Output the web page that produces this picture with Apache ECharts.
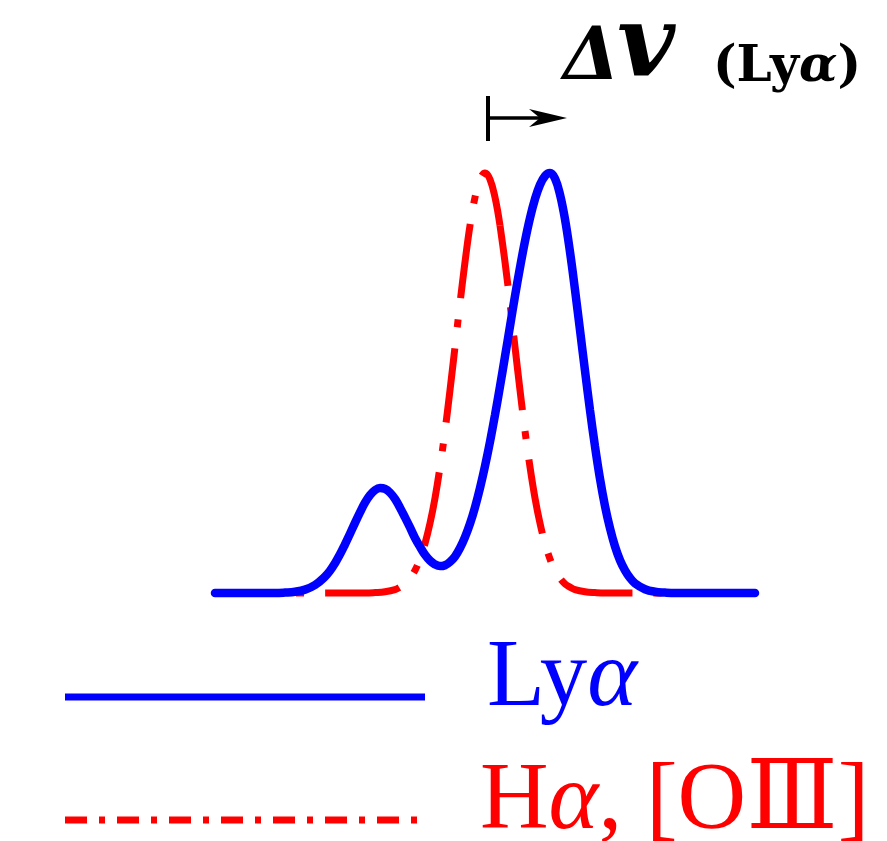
<!DOCTYPE html>
<html>
<head>
<meta charset="utf-8">
<script src="https://cdn.jsdelivr.net/npm/echarts@6/dist/echarts.min.js"></script>
<style>
  html, body { margin: 0; padding: 0; background: #ffffff; }
  #chart { width: 887px; height: 841px; }
</style>
</head>
<body>
<div id="chart"></div>
<script>
// Lyα emission profile: velocity offset (km/s) and normalised flux
const lyaVelocity = [-540, -420, -400, -380, -360, -340, -320,
  -310, -300, -290, -280, -270, -260, -250, -240, -230, -220, -210, -200, -190, -180, -170, -160,
  -150, -140, -130, -120, -110, -100, -90, -80, -70, -60, -50, -40, -30, -20, -10,
  0, 10, 20, 30, 40, 50, 60, 70, 80, 90, 100, 110, 120, 130, 140, 150, 160, 170, 180, 190, 200,
  210, 220, 230, 240, 250, 260, 270, 280, 290, 300, 320, 340, 360, 380, 540];
const lyaFlux = [0, 0, 0.001, 0.003, 0.008, 0.019, 0.039,
  0.053, 0.071, 0.092, 0.116, 0.141, 0.167, 0.192, 0.215, 0.233, 0.245, 0.250, 0.248, 0.239, 0.224, 0.203, 0.180,
  0.156, 0.131, 0.110, 0.091, 0.077, 0.068, 0.064, 0.066, 0.074, 0.087, 0.107, 0.133, 0.165, 0.204, 0.250,
  0.302, 0.360, 0.424, 0.492, 0.563, 0.635, 0.707, 0.775, 0.838, 0.893, 0.938, 0.972, 0.993, 1.000, 0.987, 0.949, 0.890, 0.812, 0.722, 0.626, 0.529,
  0.435, 0.349, 0.272, 0.207, 0.154, 0.111, 0.078, 0.054, 0.036, 0.023, 0.009, 0.003, 0.001, 0, 0];

// Hα / [OIII] nebular line profile (systemic velocity)
const nebVelocity = [-440, -240, -220, -200, -180, -170, -160, -150, -140, -130, -120, -110, -100,
  -90, -80, -70, -60, -50, -40, -30, -20, -10, 0, 10, 20, 30, 40, 50, 60, 70, 80, 90,
  100, 110, 120, 130, 140, 150, 160, 170, 180, 200, 220, 240, 360];
const nebFlux = [0, 0, 0.001, 0.003, 0.008, 0.014, 0.022, 0.035, 0.054, 0.081, 0.118, 0.166, 0.226,
  0.300, 0.386, 0.483, 0.586, 0.690, 0.788, 0.875, 0.942, 0.985, 1.000, 0.985, 0.942, 0.875, 0.788, 0.690, 0.586, 0.483, 0.386, 0.300,
  0.226, 0.166, 0.118, 0.081, 0.054, 0.035, 0.022, 0.014, 0.008, 0.003, 0.001, 0, 0];

const velocityRange = [-540, 540];
const fluxRange = [0, 1];

const lyaLabel = 'Lyα';
const nebLabel = 'Hα, [OⅢ]';

const LYA_COLOR = '#0000ff';
const NEB_COLOR = '#ff0000';
const INK = '#000000';

const pairs = (xs, ys) => xs.map((x, i) => [x, ys[i]]);

// the dash-dot profile is stroked outwards from just right of its peak,
// so the dash phase of each flank is anchored near the top
const nebSplit = 30;
const nebPoints = pairs(nebVelocity, nebFlux);
const nebBlue = nebPoints.filter(p => p[0] <= nebSplit).reverse();
const nebRed = nebPoints.filter(p => p[0] >= nebSplit);
const dashDot = [75, 21, 8, 21];

const nebStyle = (offset) => ({ color: NEB_COLOR, width: 7, type: dashDot, dashOffset: offset, cap: 'butt' });

const chart = echarts.init(document.getElementById('chart'), null, { renderer: 'canvas' });

chart.setOption({
  animation: false,
  backgroundColor: '#ffffff',
  grid: { left: 215, top: 173, width: 540, height: 420 },
  xAxis: { type: 'value', min: velocityRange[0], max: velocityRange[1], show: false },
  yAxis: { type: 'value', min: fluxRange[0], max: fluxRange[1], show: false },
  series: [
    { type: 'line', name: nebLabel, data: nebBlue, showSymbol: false, smooth: 0.4, clip: false, z: 2,
      lineStyle: nebStyle(15) },
    { type: 'line', name: nebLabel, data: nebRed, showSymbol: false, smooth: 0.4, clip: false, z: 2,
      lineStyle: nebStyle(14) },
    { type: 'line', name: lyaLabel, data: pairs(lyaVelocity, lyaFlux), showSymbol: false, smooth: 0.4, clip: false, z: 3,
      lineStyle: { color: LYA_COLOR, width: 8.5, cap: 'round' } }
  ]
});

// velocity-offset arrow from the nebular peak towards the Lyα peak
const peakOf = (xs, ys) => xs[ys.indexOf(Math.max(...ys))];
const nebPeak = chart.convertToPixel({ gridIndex: 0 }, [peakOf(nebVelocity, nebFlux), 1]);
const lyaPeak = chart.convertToPixel({ gridIndex: 0 }, [peakOf(lyaVelocity, lyaFlux), 1]);
const barX = nebPeak[0] + 3;
const tipX = lyaPeak[0] + 17;
const arrowY = 118;

const serif = '"Liberation Serif", "DejaVu Serif", serif';
const legendLeft = 65, legendRight = 425;

chart.setOption({
  graphic: [
    { type: 'line', shape: { x1: barX, y1: 96, x2: barX, y2: 141 }, style: { stroke: INK, lineWidth: 4 } },
    { type: 'line', shape: { x1: barX, y1: arrowY, x2: tipX - 24, y2: arrowY }, style: { stroke: INK, lineWidth: 3.5 } },
    { type: 'polygon', shape: { points: [[tipX, arrowY], [tipX - 38, arrowY - 9], [tipX - 27, arrowY], [tipX - 38, arrowY + 9]] },
      style: { fill: INK } },
    { type: 'text', x: 563, y: 60, style: { text: 'Δ', font: 'italic bold 73px "DejaVu Serif", serif', fill: INK, verticalAlign: 'middle' } },
    { type: 'text', x: 617, y: 50, style: { text: 'v', font: 'italic bold 100px "DejaVu Serif", serif', fill: INK, verticalAlign: 'middle' } },
    { type: 'text', x: 787, y: 68,
      style: { text: '{p|(Ly}{a|α}{p|)}', fill: INK, align: 'center', verticalAlign: 'middle',
        rich: { p: { font: 'bold 50px "DejaVu Serif", serif', fill: INK }, a: { font: 'italic bold 50px "DejaVu Serif", serif', fill: INK } } } },

    // legend
    { type: 'line', shape: { x1: legendLeft, y1: 697, x2: legendRight, y2: 697 }, style: { stroke: LYA_COLOR, lineWidth: 7 } },
    { type: 'line', shape: { x1: legendLeft, y1: 820, x2: legendRight, y2: 820 },
      style: { stroke: NEB_COLOR, lineWidth: 7, lineDash: [22, 12, 6, 12] } },
    { type: 'text', x: 487, y: 680,
      style: { text: '{n|Ly}{i|α}', fill: LYA_COLOR, verticalAlign: 'middle',
        rich: { n: { font: '95px ' + serif, fill: LYA_COLOR }, i: { font: 'italic 95px ' + serif, fill: LYA_COLOR } } } },
    { type: 'text', x: 480, y: 803,
      style: { text: '{n|H}{i|α}{n|, [O}{r|Ⅲ}{n|]}', fill: NEB_COLOR, verticalAlign: 'middle',
        rich: { n: { font: '95px ' + serif, fill: NEB_COLOR }, i: { font: 'italic 95px ' + serif, fill: NEB_COLOR },
                r: { font: '95px ' + serif, fill: NEB_COLOR } } } }
  ]
});
</script>
</body>
</html>
